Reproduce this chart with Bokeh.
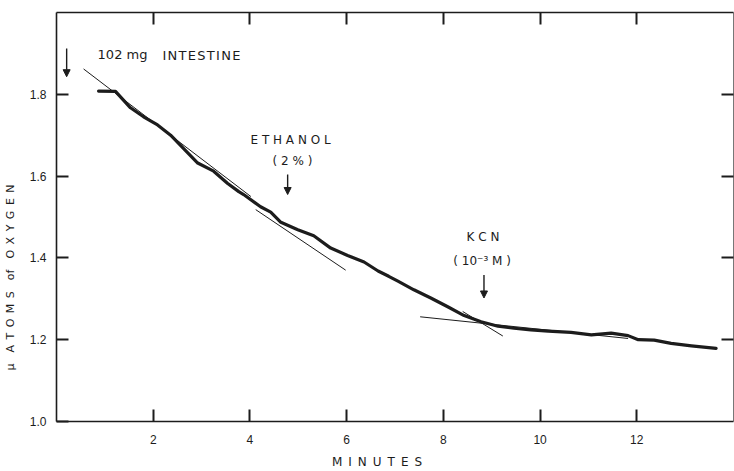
from bokeh.plotting import figure
from bokeh.models import (ColumnDataSource, LinearAxis, FixedTicker, Range1d,
                          Arrow, NormalHead, NumeralTickFormatter,
                          CustomJSTickFormatter)
from bokeh.core.properties import value
from bokeh.embed import file_html
from bokeh.resources import INLINE

# Oxygen electrode trace: time (min) vs micro-atoms of oxygen remaining
minutes = [0.87, 1.22, 1.53, 1.80, 2.09, 2.36, 2.63, 2.92, 3.25, 3.54, 3.77,
           3.87, 4.22, 4.43, 4.64, 4.99, 5.32, 5.67, 6.02, 6.36, 6.65, 6.87,
           7.06, 7.39, 7.74, 8.10, 8.43, 8.78, 9.13, 9.46, 9.81, 10.17, 10.64,
           11.06, 11.47, 11.82, 12.03, 12.36, 12.71, 13.13, 13.64]
oxygen = [1.808, 1.807, 1.767, 1.745, 1.725, 1.700, 1.667, 1.632, 1.612, 1.582,
          1.562, 1.555, 1.525, 1.512, 1.487, 1.469, 1.454, 1.424, 1.406, 1.390,
          1.368, 1.355, 1.343, 1.322, 1.302, 1.280, 1.259, 1.244, 1.233, 1.228,
          1.224, 1.221, 1.218, 1.212, 1.216, 1.210, 1.200, 1.199, 1.191, 1.185,
          1.179]

# Rate tangents drawn by hand over the trace
tan_x0 = [0.56, 4.12, 7.52, 8.40]
tan_y0 = [1.862, 1.518, 1.256, 1.269]
tan_x1 = [4.02, 5.98, 11.82, 9.23]
tan_y1 = [1.550, 1.370, 1.203, 1.209]

# Additions marked with arrows
arrow_x = [0.21, 4.78, 8.84]
arrow_top = [1.912, 1.604, 1.358]
arrow_tip = [1.843, 1.555, 1.302]

# Annotation texts
HS = "\u200a"  # hair space between capitals
left_text = ["102 mg", HS.join("INTESTINE")]
left_x = [0.85, 2.19]
left_y = [1.898, 1.895]
center_text = ["E T H A N O L", "( 2 % )", "K C N", "( 10\u207b\u00b3  M )"]
center_x = [4.84, 4.88, 8.82, 8.84]
center_y = [1.689, 1.638, 1.451, 1.392]

x_ticks = [2, 4, 6, 8, 10, 12]
y_ticks = [1.0, 1.2, 1.4, 1.6, 1.8]
y_ticks_right = [1.2, 1.4, 1.6, 1.8]

EN, EM, NB = "\u2002", "\u2003", "\u2003"
x_title = EN.join("MINUTES") + NB * 3
y_title = ("\u03bc" + EM + EN.join("ATOMS") + EM + "of" + EM
           + EN.join("OXYGEN") + NB * 11)

INK = "#1c1c1c"
FONT = "DejaVu Sans"

p = figure(width=734, height=471, output_backend="svg", toolbar_location=None,
           x_range=Range1d(0, 14), y_range=Range1d(1.0, 2.0),
           min_border_left=55, min_border_right=1, min_border_top=12,
           min_border_bottom=49)
p.grid.visible = False
p.outline_line_color = None
p.background_fill_color = "white"
p.border_fill_color = "white"


def style_axis(ax, labels=True):
    ax.axis_line_color = INK
    ax.axis_line_width = 1.6
    ax.major_tick_line_color = INK
    ax.major_tick_line_width = 2
    ax.major_tick_in = 12
    ax.major_tick_out = 0
    ax.minor_tick_line_color = None
    if labels:
        ax.major_label_text_color = INK
        ax.major_label_text_font = "Liberation Sans"
        ax.major_label_text_font_size = "12px"
    else:
        ax.formatter = CustomJSTickFormatter(code="return ''")
        ax.major_label_standoff = 0


p.xaxis.ticker = FixedTicker(ticks=x_ticks)
p.xaxis.formatter = NumeralTickFormatter(format="0")
p.xaxis.major_label_standoff = 13
style_axis(p.xaxis[0])
p.xaxis.axis_label = x_title
p.xaxis.axis_label_text_font = FONT
p.xaxis.axis_label_text_font_size = "12px"
p.xaxis.axis_label_text_font_style = "normal"
p.xaxis.axis_label_text_color = INK
p.xaxis.axis_label_standoff = 8

p.yaxis.ticker = FixedTicker(ticks=y_ticks)
p.yaxis.formatter = NumeralTickFormatter(format="0.0")
p.yaxis.major_label_standoff = 10
style_axis(p.yaxis[0])
p.yaxis.axis_label = y_title
p.yaxis.axis_label_text_font = FONT
p.yaxis.axis_label_text_font_size = "11px"
p.yaxis.axis_label_text_font_style = "normal"
p.yaxis.axis_label_text_color = INK
p.yaxis.axis_label_standoff = 10

top = LinearAxis(ticker=FixedTicker(ticks=x_ticks))
style_axis(top, labels=False)
p.add_layout(top, "above")

right = LinearAxis(ticker=FixedTicker(ticks=y_ticks_right))
style_axis(right, labels=False)
right.axis_line_width = 1
right.axis_line_alpha = 0.6
p.add_layout(right, "right")

# thin tangents
p.segment(x0=tan_x0, y0=tan_y0, x1=tan_x1, y1=tan_y1,
          line_color=INK, line_width=1)

# recorder trace
p.line(minutes, oxygen, line_color=INK, line_width=3.2, line_join="round",
       line_cap="round")

# arrows
arrow_src = ColumnDataSource(dict(x=arrow_x, top=arrow_top, tip=arrow_tip))
p.add_layout(Arrow(source=arrow_src, x_start="x", y_start="top", x_end="x",
                   y_end="tip", line_color=INK, line_width=1.4,
                   end=NormalHead(size=7, fill_color=INK, line_color=INK)))

p.text(x=left_x, y=left_y, text=left_text, text_font=value(FONT),
       text_font_size="13px", text_color=INK, text_align="left",
       text_baseline="middle")
p.text(x=center_x, y=center_y, text=center_text, text_font=value(FONT),
       text_font_size="12px", text_color=INK, text_align="center",
       text_baseline="middle")

open("out.html", "w").write(file_html(p, INLINE))
